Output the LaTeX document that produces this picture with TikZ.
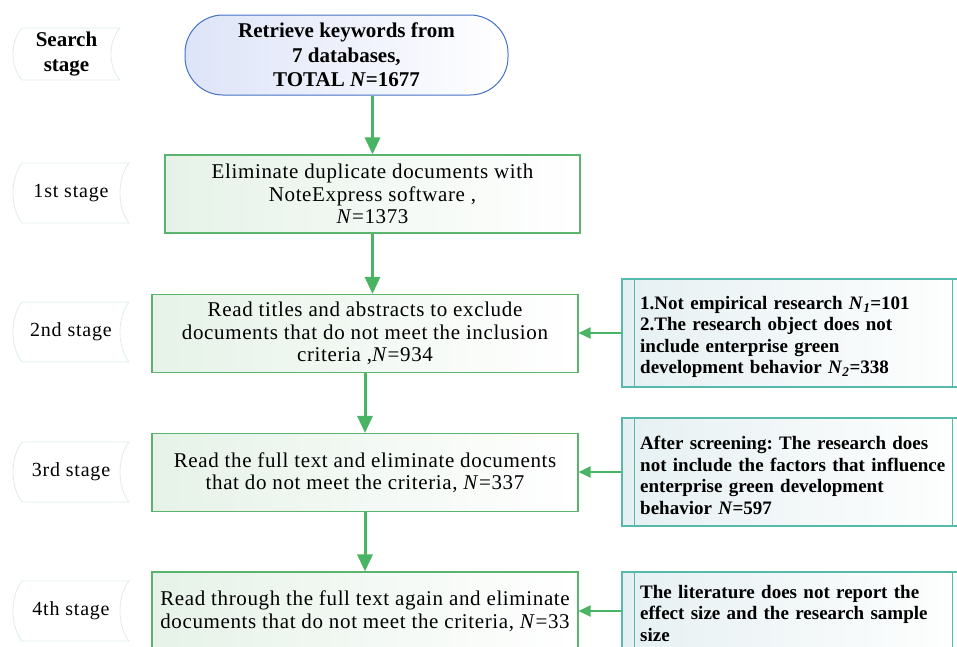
\documentclass[tikz,border=0pt]{standalone}
\usepackage{fontspec}
\setmainfont{Liberation Serif}
\newfontfamily\boxfont[LetterSpace=3]{Liberation Serif}
\newfontfamily\stagefont[LetterSpace=4]{Liberation Serif}
\usetikzlibrary{arrows.meta,calc}
\definecolor{ag}{RGB}{72,180,100}
\definecolor{bg}{RGB}{90,180,110}
\definecolor{lg}{RGB}{230,242,232}
\definecolor{tl}{RGB}{85,185,172}
\definecolor{lt}{RGB}{230,240,242}
\definecolor{bl}{RGB}{68,114,196}
\definecolor{lb}{RGB}{222,228,248}
\definecolor{sg}{RGB}{222,238,226}
\frenchspacing
\begin{document}
\begin{tikzpicture}[x=1pt,y=-1pt,
  mainbox/.style={draw=bg, line width=1.1pt, left color=lg, right color=white, align=center,
    inner sep=0pt, minimum height=78pt, font=\boxfont\fontsize{21}{22.5}\selectfont},
  termbox/.style={draw=bl, line width=1pt, left color=lb, right color=white, align=center,
    rounded corners=38pt, inner sep=0pt, minimum width=323pt, minimum height=80pt,
    font=\bfseries\fontsize{21}{24.5}\selectfont},
  sidebox/.style={draw=tl, line width=1.1pt, left color=lt, right color=white, inner sep=0pt,
    minimum width=353pt},
  sidetext/.style={anchor=north west, align=left, inner sep=0pt, text width=315pt,
    font=\bfseries\fontsize{19}{21.5}\selectfont},
  stagebox/.style={inner sep=0pt, align=center, font=\stagefont\fontsize{20}{22}\selectfont},
  stageline/.style={draw=sg, line width=0.8pt, fill=white},
  bigarrow/.style={draw=ag, line width=3pt, -{Triangle[width=15pt,length=17pt]}},
  smallarrow/.style={draw=ag, line width=2pt, -{Triangle[width=11pt,length=12pt]}}
]
\useasboundingbox (0,0) rectangle (957,646);
\clip (0,0) rectangle (957,646);

% stage label shapes
\foreach \n/\cx/\cy/\w/\h in {0/66.5/54/107/52, 1/71/193/116/60, 2/71/332/116/60, 3/71/472/116/60, 4/71/611/116/60}{
  \path[stageline] (\cx-\w/2+9,\cy-\h/2) -- (\cx+\w/2,\cy-\h/2)
    .. controls (\cx+\w/2-12,\cy-\h/4) and (\cx+\w/2-12,\cy+\h/4) .. (\cx+\w/2,\cy+\h/2)
    -- (\cx-\w/2+9,\cy+\h/2)
    .. controls (\cx-\w/2-3,\cy+\h/4) and (\cx-\w/2-3,\cy-\h/4) .. cycle;
}
\node[stagebox, font=\bfseries\fontsize{21}{24.5}\selectfont] (s0) at (66.5,54) {Search\\stage};
\node[stagebox] (s1) at (71,193) {1st stage};
\node[stagebox] (s2) at (71,332) {2nd stage};
\node[stagebox] (s3) at (71,472) {3rd stage};
\node[stagebox] (s4) at (71,611) {4th stage};

% main column
\node[termbox] (t) at (346.5,55) {Retrieve keywords from\\7 databases,\\TOTAL \textit{N}=1677};
\node[mainbox, minimum width=415pt] (b1) at (372.5,194) {Eliminate duplicate documents with\\NoteExpress software ,\\\textit{N}=1373};
\node[mainbox, minimum width=426pt] (b2) at (365,333.5) {Read titles and abstracts to exclude\\documents that do not meet the inclusion\\criteria ,\textit{N}=934};
\node[mainbox, minimum width=426pt] (b3) at (365,472.5) {Read the full text and eliminate documents\\that do not meet the criteria, \textit{N}=337};
\node[mainbox, minimum width=426pt] (b4) at (365,611) {Read through the full text again and eliminate\\documents that do not meet the criteria, \textit{N}=33};

% side boxes
\node[sidebox, minimum height=108pt] (c2) at (798.5,333) {};
\node[sidebox, minimum height=108pt] (c3) at (798.5,472) {};
\node[sidebox, minimum height=108pt] (c4) at (798.5,626) {};
\foreach \c in {c2,c3,c4}{
  \draw[tl, line width=1.1pt] ([xshift=13pt]\c.north west) -- ([xshift=13pt]\c.south west);
  \draw[tl, line width=1.1pt] ([xshift=331pt]\c.north west) -- ([xshift=331pt]\c.south west);
}
\node[sidetext] (c2t) at (640,296) {1.Not empirical research \textit{N}\textsubscript{\textit{1}}=101\\2.The research object does not\\include enterprise green\\development behavior \textit{N}\textsubscript{\textit{2}}=338};
\node[sidetext] (c3t) at (640,436) {After screening: The research does\\not include the factors that influence\\enterprise green development\\behavior \textit{N}=597};
\node[sidetext] (c4t) at (640,585) {The literature does not report the\\effect size and the research sample\\size};

% arrows
\draw[bigarrow] (b1.north |- t.south) -- (b1.north);
\draw[bigarrow] (b1.south) -- (b1.south |- b2.north);
\draw[bigarrow] (b2.south) -- (b3.north);
\draw[bigarrow] (b3.south) -- (b4.north);
\draw[smallarrow] (c2.west) -- (c2.west -| b2.east);
\draw[smallarrow] (c3.west) -- (c3.west -| b3.east);
\draw[smallarrow] (c4.west |- b4.east) -- (b4.east);
\end{tikzpicture}
\end{document}
